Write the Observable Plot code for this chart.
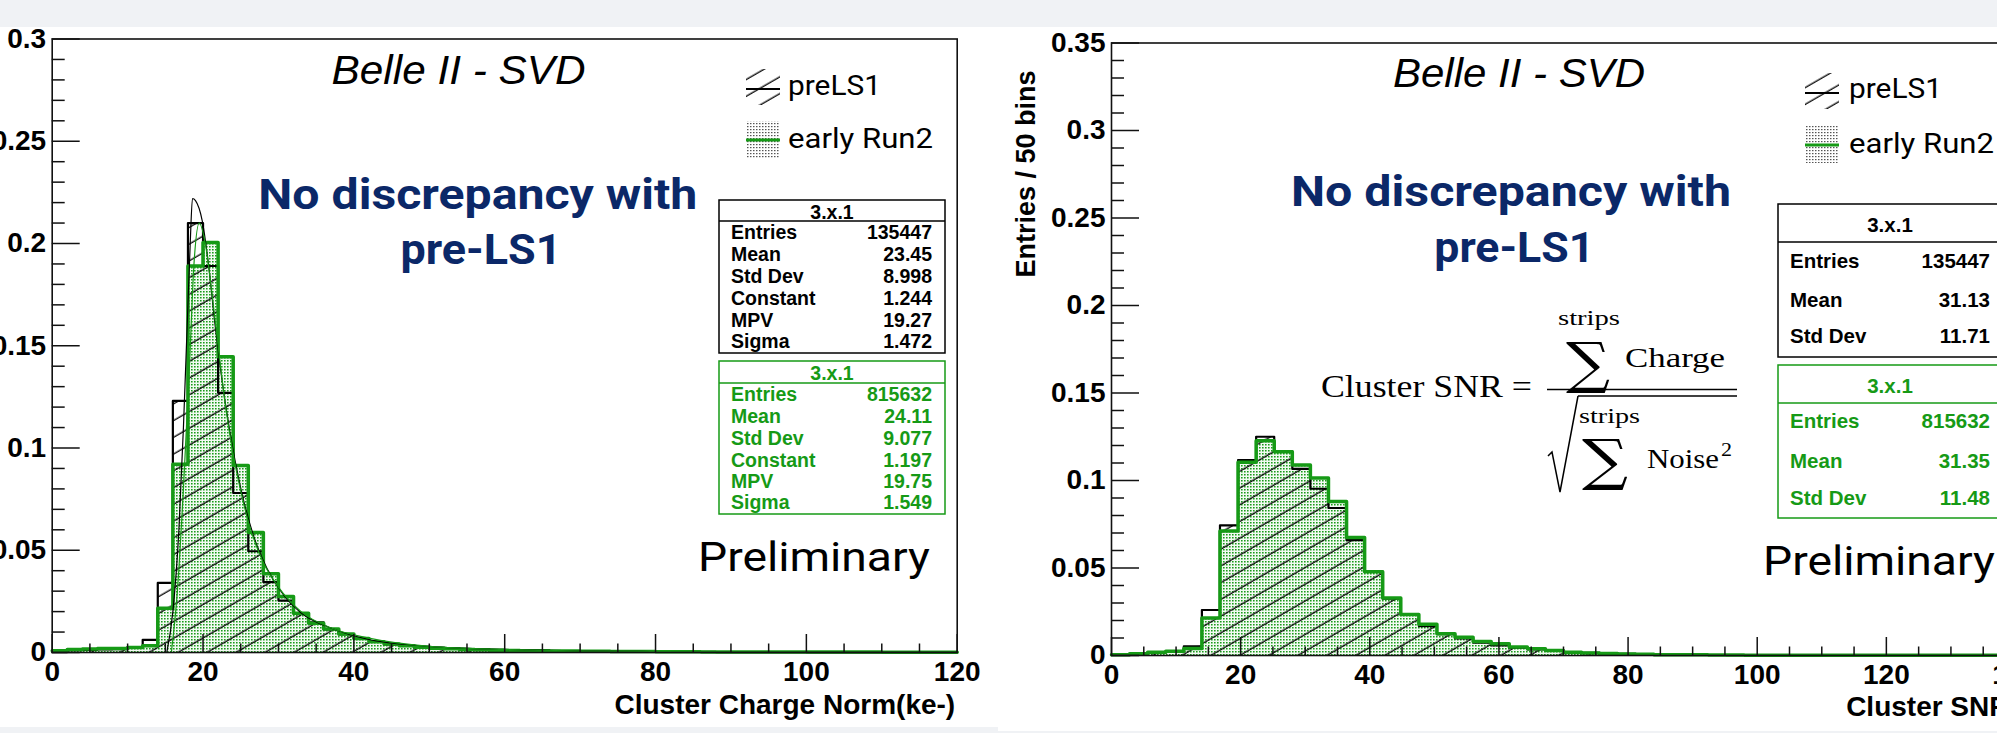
<!DOCTYPE html>
<html><head><meta charset="utf-8">
<script src="https://cdn.jsdelivr.net/npm/d3@7"></script>
<script src="https://cdn.jsdelivr.net/npm/@observablehq/plot@0.6"></script>
<style>
html,body{margin:0;padding:0;background:#f0f2f5;overflow:hidden;}
#page{position:relative;width:1997px;height:733px;overflow:hidden;background:#f0f2f5;}
.panel{position:absolute;background:#fff;}
#page > svg{position:absolute;}
</style></head>
<body><div id="page">
<div class="panel" style="left:0;top:27px;width:998px;height:700px"></div>
<div class="panel" style="left:998px;top:27px;width:999px;height:704px"></div>
<svg width="0" height="0" style="position:absolute;left:0;top:0"><defs>
  <pattern id="hatch" patternUnits="userSpaceOnUse" width="20" height="14.5" patternTransform="rotate(-30)">
    <line x1="0" y1="7" x2="20" y2="7" stroke="#000" stroke-width="1.3"/>
  </pattern>
  <pattern id="dotsG" patternUnits="userSpaceOnUse" width="3" height="3">
    <rect width="3" height="3" fill="#f2faf2"/>
    <rect x="0" y="0" width="1.6" height="1.5" fill="#1a9a1a"/>
  </pattern>
  <pattern id="dotsK" patternUnits="userSpaceOnUse" width="3" height="3">
    <rect x="0" y="0" width="1.5" height="1.2" fill="#555"/>
  </pattern>
</defs></svg>
</div>
<script>
// ---------------- data ----------------
const GREEN = "#169a16";
const NAVY = "#0b2868";

// Left panel: Cluster Charge Norm (ke-), 60 bins of width 2 over 0-120
const L_BIN = 2;
const L_PRELS1 = [0.0002,0.0012,0.0013,0.0015,0.0016,0.0026,0.0062,0.034,0.123,0.21,
  0.189,0.127,0.078,0.0495,0.0344,0.0254,0.0189,0.0148,0.0113,0.0088,
  0.0068,0.0052,0.0040,0.0032,0.0025,0.0020,0.0017,0.0014,0.0012,0.0010,
  0.0009,0.0008,0.0007,0.0006,0.0006,0.0005,0.0005,0.0004,0.0004,0.0004,
  0.0003,0.0003,0.0003,0.0003,0.0002,0.0002,0.0002,0.0002,0.0002,0.0002,
  0.0001,0.0001,0.0001,0.0001,0.0001,0.0001,0.0001,0.0001,0.0001,0.0001];
const L_RUN2 = [0.0008,0.0015,0.0017,0.0019,0.0020,0.0024,0.0033,0.0216,0.092,0.189,
  0.2005,0.1446,0.0915,0.0587,0.0385,0.0274,0.0192,0.0143,0.0115,0.0090,
  0.0069,0.0052,0.0042,0.0033,0.0026,0.0021,0.0018,0.0015,0.0013,0.0011,
  0.0010,0.0009,0.0008,0.0007,0.0007,0.0006,0.0006,0.0005,0.0005,0.0005,
  0.0004,0.0004,0.0004,0.0003,0.0003,0.0003,0.0003,0.0003,0.0002,0.0002,
  0.0002,0.0002,0.0002,0.0002,0.0002,0.0001,0.0001,0.0001,0.0001,0.0001];
// Landau fit curves
const L_FIT_PRE_X = [15.2,16.0,16.8,17.4,17.9,18.3,18.6,19.0,19.9,20.75,21.6,22.3,23.6,24.9,26.7,28.5,30.7,32.9,37.3,41.7,50,60,80,100,120];
const L_FIT_PRE_Y = [0,0.02,0.06,0.11,0.16,0.2,0.222,0.221,0.211,0.189,0.16,0.139,0.107,0.082,0.057,0.041,0.028,0.0197,0.0115,0.0066,0.003,0.0015,0.0005,0.0002,0.0001];
const L_FIT_RUN2_X = [15.8,16.6,17.4,18.2,18.8,19.5,20.3,21.2,22,23,24,25,26,28,30,33,37,42,50,60,80,120];
const L_FIT_RUN2_Y = [0,0.03,0.08,0.14,0.19,0.21,0.2,0.175,0.15,0.12,0.097,0.079,0.064,0.044,0.032,0.02,0.012,0.007,0.003,0.0015,0.0005,0.0001];
const L_X_TICKS = [0,20,40,60,80,100,120];
const L_Y_TICKS = [0,0.05,0.1,0.15,0.2,0.25,0.3];

// Right panel: Cluster SNR, 50 bins of width 2.8 over 0-140
const R_BIN = 2.8;
const R_PRELS1 = [0.0003,0.0008,0.0015,0.0025,0.0053,0.026,0.0744,0.1117,0.125,0.1167,
  0.1066,0.0953,0.0843,0.0659,0.048,0.0325,0.0232,0.0168,0.0122,0.0098,
  0.0074,0.0058,0.0045,0.0035,0.0027,0.0020,0.0015,0.0012,0.0009,0.0007,
  0.0005,0.0004,0.0003,0.0003,0.0002,0.0002,0.0002,0.0001,0.0001,0.0001,
  0.0001,0.0001,0.0001,0.0001,0.0001,0.0001,0.0001,0.0001,0.0001,0.0001];
const R_RUN2 = [0.0004,0.0010,0.0018,0.0025,0.0040,0.0214,0.0712,0.1104,0.1227,0.1165,
  0.1089,0.1015,0.0880,0.0674,0.0479,0.0328,0.0235,0.0178,0.0124,0.0105,
  0.0080,0.0067,0.0048,0.0038,0.0029,0.0019,0.0015,0.0012,0.0009,0.0007,
  0.0005,0.0004,0.0004,0.0003,0.0003,0.0002,0.0002,0.0002,0.0001,0.0001,
  0.0001,0.0001,0.0001,0.0001,0.0001,0.0001,0.0001,0.0001,0.0001,0.0001];
const R_X_TICKS = [0,20,40,60,80,100,120,140];
const R_Y_TICKS = [0,0.05,0.1,0.15,0.2,0.25,0.3,0.35];

// Stats boxes
const STAT_LABELS_FIT = ["Entries","Mean","Std Dev","Constant","MPV","Sigma"];
const L_STAT_PRE = ["135447","23.45","8.998","1.244","19.27","1.472"];
const L_STAT_RUN2 = ["815632","24.11","9.077","1.197","19.75","1.549"];
const STAT_LABELS = ["Entries","Mean","Std Dev"];
const R_STAT_PRE = ["135447","31.13","11.71"];
const R_STAT_RUN2 = ["815632","31.35","11.48"];
const STAT_TITLE = "3.x.1";
const LEGEND = ["preLS1","early Run2"];

// ---------------- helpers ----------------
function steps(vals, w) {
  const pts = vals.map((v, i) => ({x: i * w, y: v}));
  pts.push({x: vals.length * w, y: vals[vals.length - 1]});
  return pts;
}
function zipXY(xs, ys) { return xs.map((x, i) => ({x, y: ys[i]})); }
const fmt = d => String(d);

function histPanel(o) {
  const fw = o.width - o.marginLeft - o.marginRight;
  const fh = o.height - o.marginTop - o.marginBottom;
  const xMinor = d3.range(o.xDomain[0], o.xDomain[1] + 0.001, 5).filter(d => d % 20 !== 0);
  const yMinor = d3.range(0, o.yDomain[1] + 1e-9, 0.01).map(d => +d.toFixed(2)).filter(d => Math.round(d * 100) % 5 !== 0);
  const marks = [
    Plot.areaY(o.run2, {x: "x", y: "y", curve: "step-after", fill: "url(#dotsG)"}),
    Plot.areaY(o.pre, {x: "x", y: "y", curve: "step-after", fill: "url(#hatch)"}),
    Plot.lineY(o.pre, {x: "x", y: "y", curve: "step-after", stroke: "#000", strokeWidth: 2.2}),
    Plot.lineY(o.run2, {x: "x", y: "y", curve: "step-after", stroke: GREEN, strokeWidth: 3.5})
  ];
  if (o.fitPre) marks.push(Plot.line(o.fitPre, {x: "x", y: "y", curve: "monotone-x", stroke: "#000", strokeWidth: 1.2}));
  if (o.fitRun2) marks.push(Plot.line(o.fitRun2, {x: "x", y: "y", curve: "monotone-x", stroke: GREEN, strokeWidth: 1.2}));
  marks.push(
    Plot.tickY(yMinor, {y: d => d, stroke: "#111", strokeWidth: 1.5, insetRight: fw - 13}),
    Plot.tickY(o.yTicks, {y: d => d, stroke: "#111", strokeWidth: 1.5, insetRight: fw - 28}),
    Plot.tickX(xMinor, {x: d => d, stroke: "#111", strokeWidth: 1.5, insetTop: fh - 8.5}),
    Plot.tickX(o.xTicks, {x: d => d, stroke: "#111", strokeWidth: 1.5, insetTop: fh - 18}),
    Plot.frame({stroke: "#111", strokeWidth: 1.6}),
    Plot.axisY(o.yTicks, {label: null, tickSize: 0, tickPadding: 6, fontSize: 28, fontWeight: "bold", tickFormat: fmt, fill: "#000"}),
    Plot.axisX(o.xTicks, {label: null, tickSize: 0, tickPadding: 9, fontSize: 28, fontWeight: "bold", tickFormat: fmt, fill: "#000"}),
    Plot.text([o.xLabel], {frameAnchor: "bottom-right", textAnchor: "end", lineAnchor: "bottom", dx: o.xLabelDx, dy: o.xLabelDy, fontSize: 28, fontWeight: "bold", fill: "#000"})
  );
  if (o.yLabel) marks.push(Plot.text([o.yLabel], {frameAnchor: "top-left", rotate: -90, textAnchor: "end", lineAnchor: "middle", dx: o.yLabelDx, dy: o.yLabelDy, fontSize: 27, fontWeight: "bold", fill: "#000"}));
  const svg = Plot.plot({
    width: o.width, height: o.height,
    marginLeft: o.marginLeft, marginRight: o.marginRight, marginTop: o.marginTop, marginBottom: o.marginBottom,
    x: {domain: o.xDomain, label: null}, y: {domain: o.yDomain, label: null},
    style: "background:transparent;max-width:none;overflow:visible;font-family:'Liberation Sans',Arial,sans-serif;",
    marks
  });
  svg.style.position = "absolute";
  svg.style.left = o.left + "px";
  svg.style.top = "0px";
  return svg;
}

const page = document.getElementById("page");
page.appendChild(histPanel({
  left: -40, width: 1038, height: 733,
  marginLeft: 91.7, marginRight: 41.3, marginTop: 38.5, marginBottom: 81,
  xDomain: [0, 120], yDomain: [0, 0.3],
  pre: steps(L_PRELS1, L_BIN), run2: steps(L_RUN2, L_BIN),
  fitPre: zipXY(L_FIT_PRE_X, L_FIT_PRE_Y), fitRun2: zipXY(L_FIT_RUN2_X, L_FIT_RUN2_Y),
  xTicks: L_X_TICKS, yTicks: L_Y_TICKS,
  xLabel: "Cluster Charge Norm(ke-)", xLabelDx: -2, xLabelDy: 61
}));
page.appendChild(histPanel({
  left: 998, width: 1040, height: 733,
  marginLeft: 113, marginRight: 23, marginTop: 42.5, marginBottom: 78,
  xDomain: [0, 140], yDomain: [0, 0.35],
  pre: steps(R_PRELS1, R_BIN), run2: steps(R_RUN2, R_BIN),
  xTicks: R_X_TICKS, yTicks: R_Y_TICKS,
  xLabel: "Cluster SNR", xLabelDx: -6, xLabelDy: 60,
  yLabel: "Entries / 50 bins", yLabelDx: -85, yLabelDy: 27.5
}));

// ---------------- annotations overlay ----------------
const ov = d3.select(page).append("svg")
  .attr("width", 1997).attr("height", 733)
  .style("left", "0px").style("top", "0px").style("position", "absolute");

function txt(s, x, y, opts = {}) {
  const t = ov.append("text").attr("x", x).attr("y", y).text(s)
    .attr("font-family", opts.family || "'Liberation Sans',Arial,sans-serif")
    .attr("font-size", opts.size || 20)
    .attr("fill", opts.fill || "#000");
  if (opts.weight) t.attr("font-weight", opts.weight);
  if (opts.italic) t.attr("font-style", "italic");
  if (opts.anchor) t.attr("text-anchor", opts.anchor);
  if (opts.len) t.attr("textLength", opts.len).attr("lengthAdjust", "spacingAndGlyphs");
  return t;
}

// Belle II - SVD
txt("Belle II - SVD", 331.6, 84, {size: 40, italic: true, len: 254});
txt("Belle II - SVD", 1393, 86.5, {size: 40, italic: true, len: 252});

// Blue statement
const blue = {family: "Roboto,'Liberation Sans',sans-serif", size: 42, weight: 700, fill: NAVY};
txt("No discrepancy with", 258.3, 209, {...blue, len: 439});
txt("pre-LS1", 400.5, 264, {...blue, len: 161});
txt("No discrepancy with", 1291, 206, {...blue, len: 440});
txt("pre-LS1", 1434.3, 262, {...blue, len: 160});

// Preliminary
const prel = {family: "Roboto,'Liberation Sans',sans-serif", size: 40};
txt("Preliminary", 698, 571, {...prel, len: 232});
txt("Preliminary", 1763, 575, {...prel, len: 232});

// Legends
function legend(ix, iy1, iy2, tx, ty1, ty2) {
  ov.append("rect").attr("x", ix).attr("y", iy1).attr("width", 34).attr("height", 36).attr("fill", "url(#hatch)");
  ov.append("line").attr("x1", ix).attr("x2", ix + 34).attr("y1", iy1 + 20).attr("y2", iy1 + 20).attr("stroke", "#000").attr("stroke-width", 2);
  ov.append("rect").attr("x", ix).attr("y", iy2).attr("width", 34).attr("height", 37).attr("fill", "url(#dotsK)");
  ov.append("line").attr("x1", ix).attr("x2", ix + 34).attr("y1", iy2 + 19).attr("y2", iy2 + 19).attr("stroke", GREEN).attr("stroke-width", 3);
  const f = {family: "Roboto,'Liberation Sans',sans-serif", size: 27};
  txt(LEGEND[0], tx, ty1, {...f, len: 93});
  txt(LEGEND[1], tx, ty2, {...f, len: 145});
}
legend(746, 69, 121, 788, 95, 148);
legend(1805, 73, 126, 1849, 98, 153);

// Stats boxes
function statBox(b) {
  ov.append("rect").attr("x", b.x).attr("y", b.y).attr("width", b.w).attr("height", b.h)
    .attr("fill", "#fff").attr("stroke", b.color).attr("stroke-width", 1.5);
  ov.append("line").attr("x1", b.x).attr("x2", b.x + b.w).attr("y1", b.div).attr("y2", b.div)
    .attr("stroke", b.color).attr("stroke-width", 1.5);
  const f = {size: b.size, weight: 700, fill: b.color};
  txt(STAT_TITLE, b.cx, b.hb, {...f, anchor: "middle"});
  b.labels.forEach((l, i) => {
    txt(l, b.lx, b.rows[i], f);
    txt(b.values[i], b.vx, b.rows[i], {...f, anchor: "end"});
  });
}
statBox({x: 719, y: 200, w: 226, h: 153, div: 221, hb: 219, cx: 832, lx: 731, vx: 932, size: 19.5,
  rows: [239, 261, 283, 305, 327, 348], labels: STAT_LABELS_FIT, values: L_STAT_PRE, color: "#000"});
statBox({x: 719, y: 361, w: 226, h: 153, div: 383, hb: 380, cx: 832, lx: 731, vx: 932, size: 19.5,
  rows: [401, 423, 445, 467, 488, 509], labels: STAT_LABELS_FIT, values: L_STAT_RUN2, color: GREEN});
statBox({x: 1778, y: 204, w: 240, h: 153, div: 242, hb: 232, cx: 1890, lx: 1790, vx: 1990, size: 20.5,
  rows: [268, 307, 343], labels: STAT_LABELS, values: R_STAT_PRE, color: "#000"});
statBox({x: 1778, y: 365, w: 240, h: 153, div: 403, hb: 393, cx: 1890, lx: 1790, vx: 1990, size: 20.5,
  rows: [428, 468, 505], labels: STAT_LABELS, values: R_STAT_RUN2, color: GREEN});

// Formula: Cluster SNR = sum Charge / sqrt(sum Noise^2)
const serif = {family: "'Liberation Serif','DejaVu Serif',serif"};
txt("Cluster SNR =", 1321, 397, {...serif, size: 31, len: 211});
ov.append("line").attr("x1", 1547).attr("x2", 1737).attr("y1", 389.5).attr("y2", 389.5).attr("stroke", "#000").attr("stroke-width", 1.5);
ov.append("line").attr("x1", 1578).attr("x2", 1737).attr("y1", 396).attr("y2", 396).attr("stroke", "#000").attr("stroke-width", 1.5);
ov.append("polyline").attr("points", "1548,456 1552,452 1560,492 1578,396").attr("fill", "none").attr("stroke", "#000").attr("stroke-width", 1.5);
txt("strips", 1558, 325, {...serif, size: 20, len: 62});
txt("\u2211", 1566, 382, {family: "'DejaVu Serif',serif", size: 56, len: 44});
txt("Charge", 1625, 367, {...serif, size: 28, len: 100});
txt("strips", 1579, 423, {...serif, size: 20, len: 61});
txt("\u2211", 1582, 479, {family: "'DejaVu Serif',serif", size: 56, len: 46});
txt("Noise", 1647, 468, {...serif, size: 28, len: 72});
txt("2", 1721, 456, {...serif, size: 18, len: 11});
</script>
</body></html>
